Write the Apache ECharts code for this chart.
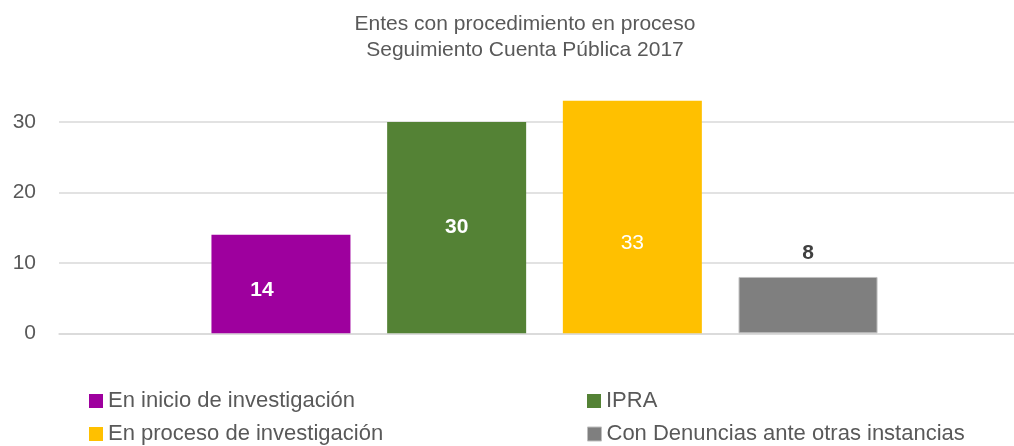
<!DOCTYPE html>
<html>
<head>
<meta charset="utf-8">
<script src="https://cdn.jsdelivr.net/npm/echarts@6/dist/echarts.min.js"></script>
<style>
html,body{margin:0;padding:0;background:#fff;}
#chart{width:1014px;height:446px;}
</style>
</head>
<body>
<div id="chart"></div>
<script>
const titleLines = ['Entes con procedimiento en proceso', 'Seguimiento Cuenta Pública 2017'];
const categories = ['Entes'];
const seriesNames = ['En inicio de investigación', 'IPRA', 'En proceso de investigación', 'Con Denuncias ante otras instancias'];
const inicioValues = [14];
const ipraValues = [30];
const procesoValues = [33];
const denunciasValues = [8];
const yTicks = [0, 10, 20, 30];

const colors = ['#9E009E', '#548235', '#FFC000', '#7F7F7F'];
const font = "'Liberation Sans', Arial, sans-serif";

const chart = echarts.init(document.getElementById('chart'), null, {renderer: 'canvas'});

function legendAt(name, left, top, extraIcon) {
  return {
    data: [{name: name, icon: 'rect', itemStyle: extraIcon || {}}],
    left: left, top: top,
    itemWidth: 14, itemHeight: 14, itemGap: 0,
    padding: 0,
    selectedMode: false,
    textStyle: {fontFamily: font, fontSize: 22, color: '#595959', lineHeight: 26}
  };
}

const valueArrays = [inicioValues, ipraValues, procesoValues, denunciasValues];
const labelCfgs = [
  {show: true, position: 'inside', offset: [-19, 6], color: '#fff', fontWeight: 'bold', fontSize: 21, fontFamily: font},
  {show: true, position: 'inside', color: '#fff', fontWeight: 'bold', fontSize: 21, fontFamily: font},
  {show: true, position: 'inside', offset: [0, 26], color: '#fff', fontWeight: 'normal', fontSize: 21, fontFamily: font},
  {show: true, position: 'top', distance: 13, color: '#404040', fontWeight: 'bold', fontSize: 21, fontFamily: font}
];

const option = {
  animation: false,
  backgroundColor: '#fff',
  title: {
    text: titleLines.join('\n'),
    left: 520, top: 6, textAlign: 'center',
    textStyle: {fontFamily: font, fontSize: 21, fontWeight: 'normal', color: '#595959', lineHeight: 26}
  },
  legend: [
    legendAt(seriesNames[0], 89, 388),
    legendAt(seriesNames[1], 587, 388),
    legendAt(seriesNames[2], 89, 421),
    legendAt(seriesNames[3], 587, 421, {borderColor: '#BFBFBF', borderWidth: 1})
  ],
  grid: [
    {left: 59, right: 0, top: 122, bottom: 112.7, containLabel: false},
    {left: 75, right: 0, top: 122, bottom: 112.7, containLabel: false}
  ],
  xAxis: [
    {
      type: 'category', data: categories, gridIndex: 0,
      axisLine: {show: true, lineStyle: {color: '#D9D9D9', width: 1.5}},
      axisTick: {show: false}, axisLabel: {show: false}
    },
    {
      type: 'category', data: categories, gridIndex: 1,
      axisLine: {show: false}, axisTick: {show: false}, axisLabel: {show: false}
    }
  ],
  yAxis: [
    {
      type: 'value', min: 0, max: 30, interval: 10, gridIndex: 0,
      axisLine: {show: false}, axisTick: {show: false},
      axisLabel: {fontFamily: font, fontSize: 21, color: '#595959', margin: 23,
        formatter: function (v) { return yTicks.indexOf(v) >= 0 ? String(v) : ''; }},
      splitLine: {lineStyle: {color: '#D9D9D9', width: 1.5}}
    },
    {
      type: 'value', min: 0, max: 30, interval: 10, gridIndex: 1,
      axisLine: {show: false}, axisTick: {show: false}, axisLabel: {show: false},
      splitLine: {show: false}
    }
  ],
  series: seriesNames.map(function (n, i) {
    return {
      name: n, type: 'bar', data: valueArrays[i],
      xAxisIndex: 1, yAxisIndex: 1,
      barWidth: 139, barGap: '26.4%',
      clip: false,
      itemStyle: i === 3 ? {color: colors[i], borderColor: '#BFBFBF', borderWidth: 1} : {color: colors[i]},
      label: labelCfgs[i]
    };
  })
};
chart.setOption(option);
</script>
</body>
</html>
